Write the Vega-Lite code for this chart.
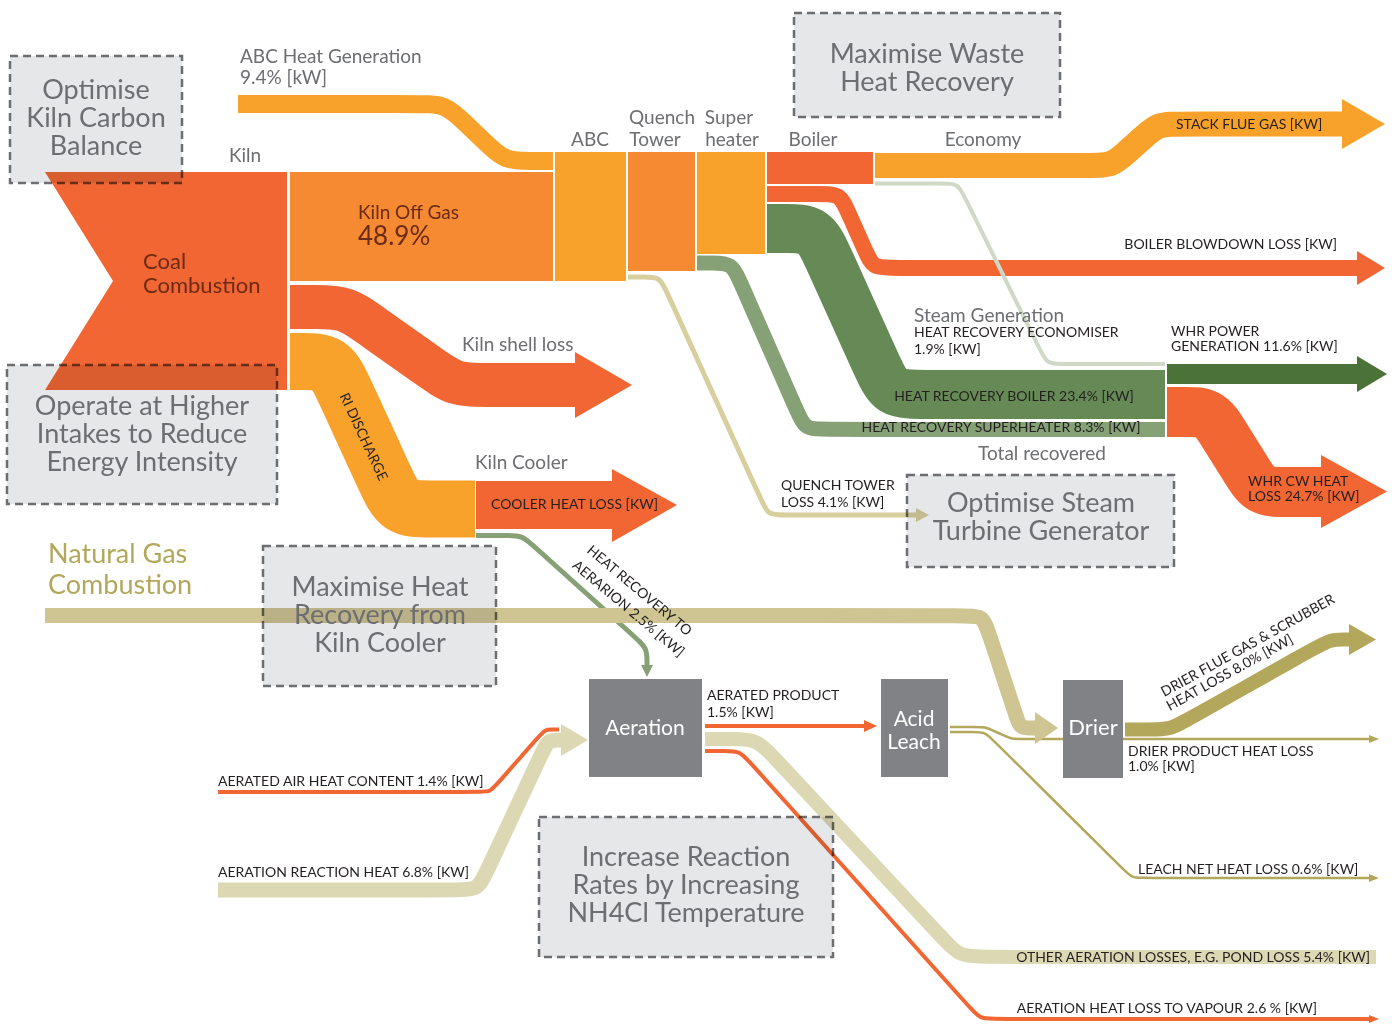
{
  "$schema": "https://vega.github.io/schema/vega-lite/v6.json",
  "width": 1395,
  "height": 1024,
  "padding": 0,
  "autosize": {"type": "none"},
  "background": "#ffffff",
  "config": {"view": {"stroke": null}, "font": "Lato"},
  "datasets": {
    "flows": [
      {"flow":"abc_heat","grp":"abc","w":18,"seq":1,"x":238,"y":104},
      {"flow":"abc_heat","grp":"abc","w":18,"seq":2,"x":420,"y":104},
      {"flow":"abc_heat","grp":"abc","w":18,"seq":3,"x":445,"y":104},
      {"flow":"abc_heat","grp":"abc","w":18,"seq":4,"x":463,"y":121},
      {"flow":"abc_heat","grp":"abc","w":18,"seq":5,"x":487,"y":144},
      {"flow":"abc_heat","grp":"abc","w":18,"seq":6,"x":505,"y":161},
      {"flow":"abc_heat","grp":"abc","w":18,"seq":7,"x":530,"y":161},
      {"flow":"abc_heat","grp":"abc","w":18,"seq":8,"x":553,"y":161},

      {"flow":"shell","grp":"red","w":44,"seq":1,"x":290,"y":307},
      {"flow":"shell","grp":"red","w":44,"seq":2,"x":315,"y":307},
      {"flow":"shell","grp":"red","w":44,"seq":3,"x":345,"y":307},
      {"flow":"shell","grp":"red","w":44,"seq":4,"x":369.5,"y":324.4},
      {"flow":"shell","grp":"red","w":44,"seq":5,"x":430.5,"y":367.6},
      {"flow":"shell","grp":"red","w":44,"seq":6,"x":455,"y":385},
      {"flow":"shell","grp":"red","w":44,"seq":7,"x":485,"y":385},
      {"flow":"shell","grp":"red","w":44,"seq":8,"x":577,"y":385},

      {"flow":"ri","grp":"abc","w":57,"seq":1,"x":290,"y":361.5},
      {"flow":"ri","grp":"abc","w":57,"seq":2,"x":301,"y":361.5},
      {"flow":"ri","grp":"abc","w":57,"seq":3,"x":331,"y":361.5},
      {"flow":"ri","grp":"abc","w":57,"seq":4,"x":343.6,"y":388.7},
      {"flow":"ri","grp":"abc","w":57,"seq":5,"x":386.4,"y":481.8},
      {"flow":"ri","grp":"abc","w":57,"seq":6,"x":399,"y":509},
      {"flow":"ri","grp":"abc","w":57,"seq":7,"x":429,"y":509},
      {"flow":"ri","grp":"abc","w":57,"seq":8,"x":475,"y":509},

      {"flow":"cooler","grp":"red","w":48,"seq":1,"x":476,"y":505},
      {"flow":"cooler","grp":"red","w":48,"seq":2,"x":614,"y":505},

      {"flow":"hrta","grp":"sh","w":5,"seq":1,"x":476,"y":535.5},
      {"flow":"hrta","grp":"sh","w":5,"seq":2,"x":507,"y":535.5},
      {"flow":"hrta","grp":"sh","w":5,"seq":3,"x":522,"y":535.5},
      {"flow":"hrta","grp":"sh","w":5,"seq":4,"x":533.1,"y":545.5},
      {"flow":"hrta","grp":"sh","w":5,"seq":5,"x":635.9,"y":638},
      {"flow":"hrta","grp":"sh","w":5,"seq":6,"x":647,"y":648},
      {"flow":"hrta","grp":"sh","w":5,"seq":7,"x":647,"y":663},
      {"flow":"hrta","grp":"sh","w":5,"seq":8,"x":647,"y":667},

      {"flow":"quench","grp":"quench","w":5,"seq":1,"x":628,"y":277},
      {"flow":"quench","grp":"quench","w":5,"seq":2,"x":645,"y":277},
      {"flow":"quench","grp":"quench","w":5,"seq":3,"x":660,"y":277},
      {"flow":"quench","grp":"quench","w":5,"seq":4,"x":666.2,"y":290.7},
      {"flow":"quench","grp":"quench","w":5,"seq":5,"x":761.8,"y":501.3},
      {"flow":"quench","grp":"quench","w":5,"seq":6,"x":768,"y":515},
      {"flow":"quench","grp":"quench","w":5,"seq":7,"x":783,"y":515},
      {"flow":"quench","grp":"quench","w":5,"seq":8,"x":918,"y":515},

      {"flow":"superheat","grp":"sh","w":15,"seq":1,"x":697,"y":263},
      {"flow":"superheat","grp":"sh","w":15,"seq":2,"x":712,"y":263},
      {"flow":"superheat","grp":"sh","w":15,"seq":3,"x":732,"y":263},
      {"flow":"superheat","grp":"sh","w":15,"seq":4,"x":740,"y":281.3},
      {"flow":"superheat","grp":"sh","w":15,"seq":5,"x":797,"y":411.2},
      {"flow":"superheat","grp":"sh","w":15,"seq":6,"x":805,"y":429.5},
      {"flow":"superheat","grp":"sh","w":15,"seq":7,"x":825,"y":429.5},
      {"flow":"superheat","grp":"sh","w":15,"seq":8,"x":1165,"y":429.5},

      {"flow":"blowdown","grp":"red","w":16,"seq":1,"x":767,"y":194},
      {"flow":"blowdown","grp":"red","w":16,"seq":2,"x":822,"y":194},
      {"flow":"blowdown","grp":"red","w":16,"seq":3,"x":840,"y":194},
      {"flow":"blowdown","grp":"red","w":16,"seq":4,"x":847.3,"y":210.4},
      {"flow":"blowdown","grp":"red","w":16,"seq":5,"x":865.7,"y":251.6},
      {"flow":"blowdown","grp":"red","w":16,"seq":6,"x":873,"y":268},
      {"flow":"blowdown","grp":"red","w":16,"seq":7,"x":891,"y":268},
      {"flow":"blowdown","grp":"red","w":16,"seq":8,"x":1358,"y":268},

      {"flow":"steam","grp":"steam","w":49,"seq":1,"x":767,"y":228.5},
      {"flow":"steam","grp":"steam","w":49,"seq":2,"x":785,"y":228.5},
      {"flow":"steam","grp":"steam","w":49,"seq":3,"x":815,"y":228.5},
      {"flow":"steam","grp":"steam","w":49,"seq":4,"x":827.4,"y":255.8},
      {"flow":"steam","grp":"steam","w":49,"seq":5,"x":877.6,"y":367.2},
      {"flow":"steam","grp":"steam","w":49,"seq":6,"x":890,"y":394.5},
      {"flow":"steam","grp":"steam","w":49,"seq":7,"x":920,"y":394.5},
      {"flow":"steam","grp":"steam","w":49,"seq":8,"x":1165,"y":394.5},

      {"flow":"stack","grp":"abc","w":25,"seq":1,"x":875,"y":165.5},
      {"flow":"stack","grp":"abc","w":25,"seq":2,"x":1092,"y":165.5},
      {"flow":"stack","grp":"abc","w":25,"seq":3,"x":1112,"y":165.5},
      {"flow":"stack","grp":"abc","w":25,"seq":4,"x":1126.8,"y":152.1},
      {"flow":"stack","grp":"abc","w":25,"seq":5,"x":1143.2,"y":137.4},
      {"flow":"stack","grp":"abc","w":25,"seq":6,"x":1158,"y":124},
      {"flow":"stack","grp":"abc","w":25,"seq":7,"x":1178,"y":124},
      {"flow":"stack","grp":"abc","w":25,"seq":8,"x":1343,"y":124},

      {"flow":"power","grp":"power","w":20,"seq":1,"x":1167,"y":374},
      {"flow":"power","grp":"power","w":20,"seq":2,"x":1358,"y":374},

      {"flow":"cw","grp":"red","w":50,"seq":1,"x":1167,"y":412},
      {"flow":"cw","grp":"red","w":50,"seq":2,"x":1185,"y":412},
      {"flow":"cw","grp":"red","w":50,"seq":3,"x":1210,"y":412},
      {"flow":"cw","grp":"red","w":50,"seq":4,"x":1223.3,"y":433.2},
      {"flow":"cw","grp":"red","w":50,"seq":5,"x":1246.7,"y":470.8},
      {"flow":"cw","grp":"red","w":50,"seq":6,"x":1260,"y":492},
      {"flow":"cw","grp":"red","w":50,"seq":7,"x":1285,"y":492},
      {"flow":"cw","grp":"red","w":50,"seq":8,"x":1323,"y":492},

      {"flow":"product","grp":"red","w":4,"seq":1,"x":705,"y":726},
      {"flow":"product","grp":"red","w":4,"seq":2,"x":866,"y":726},

      {"flow":"other","grp":"lk","w":14,"seq":1,"x":705,"y":739},
      {"flow":"other","grp":"lk","w":14,"seq":2,"x":732,"y":739},
      {"flow":"other","grp":"lk","w":14,"seq":3,"x":757,"y":739},
      {"flow":"other","grp":"lk","w":14,"seq":4,"x":774,"y":757.3},
      {"flow":"other","grp":"lk","w":14,"seq":5,"x":943,"y":938.7},
      {"flow":"other","grp":"lk","w":14,"seq":6,"x":960,"y":957},
      {"flow":"other","grp":"lk","w":14,"seq":7,"x":985,"y":957},
      {"flow":"other","grp":"lk","w":14,"seq":8,"x":1376,"y":957},

      {"flow":"vapour","grp":"red","w":4,"seq":1,"x":705,"y":751},
      {"flow":"vapour","grp":"red","w":4,"seq":2,"x":725,"y":751},
      {"flow":"vapour","grp":"red","w":4,"seq":3,"x":740,"y":751},
      {"flow":"vapour","grp":"red","w":4,"seq":4,"x":750,"y":762.2},
      {"flow":"vapour","grp":"red","w":4,"seq":5,"x":970,"y":1007.8},
      {"flow":"vapour","grp":"red","w":4,"seq":6,"x":980,"y":1019},
      {"flow":"vapour","grp":"red","w":4,"seq":7,"x":995,"y":1019},
      {"flow":"vapour","grp":"red","w":4,"seq":8,"x":1371,"y":1019},

      {"flow":"air","grp":"red","w":4,"seq":1,"x":218,"y":792},
      {"flow":"air","grp":"red","w":4,"seq":2,"x":480,"y":792},
      {"flow":"air","grp":"red","w":4,"seq":3,"x":490,"y":792},
      {"flow":"air","grp":"red","w":4,"seq":4,"x":496.6,"y":784.5},
      {"flow":"air","grp":"red","w":4,"seq":5,"x":538.4,"y":737},
      {"flow":"air","grp":"red","w":4,"seq":6,"x":545,"y":729.5},
      {"flow":"air","grp":"red","w":4,"seq":7,"x":552,"y":729.5},
      {"flow":"air","grp":"red","w":4,"seq":8,"x":559,"y":729.5},

      {"flow":"reaction","grp":"lk","w":15,"seq":1,"x":218,"y":890},
      {"flow":"reaction","grp":"lk","w":15,"seq":2,"x":458,"y":890},
      {"flow":"reaction","grp":"lk","w":15,"seq":3,"x":478,"y":890},
      {"flow":"reaction","grp":"lk","w":15,"seq":4,"x":486.5,"y":871.9},
      {"flow":"reaction","grp":"lk","w":15,"seq":5,"x":542.9,"y":750.9},
      {"flow":"reaction","grp":"lk","w":15,"seq":6,"x":548,"y":740},
      {"flow":"reaction","grp":"lk","w":15,"seq":7,"x":560,"y":740},
      {"flow":"reaction","grp":"lk","w":15,"seq":8,"x":563,"y":740},

      {"flow":"leach_drier","grp":"olive","w":2.5,"seq":1,"x":950,"y":727},
      {"flow":"leach_drier","grp":"olive","w":2.5,"seq":2,"x":977,"y":727},
      {"flow":"leach_drier","grp":"olive","w":2.5,"seq":3,"x":985,"y":727},
      {"flow":"leach_drier","grp":"olive","w":2.5,"seq":4,"x":992.3,"y":730.2},
      {"flow":"leach_drier","grp":"olive","w":2.5,"seq":5,"x":1004.7,"y":735.8},
      {"flow":"leach_drier","grp":"olive","w":2.5,"seq":6,"x":1012,"y":739},
      {"flow":"leach_drier","grp":"olive","w":2.5,"seq":7,"x":1020,"y":739},
      {"flow":"leach_drier","grp":"olive","w":2.5,"seq":8,"x":1063,"y":739},

      {"flow":"drier_product","grp":"olive","w":2.5,"seq":1,"x":1123,"y":739},
      {"flow":"drier_product","grp":"olive","w":2.5,"seq":2,"x":1370,"y":739},

      {"flow":"leach_net","grp":"olive","w":2.5,"seq":1,"x":950,"y":732},
      {"flow":"leach_net","grp":"olive","w":2.5,"seq":2,"x":973,"y":732},
      {"flow":"leach_net","grp":"olive","w":2.5,"seq":3,"x":985,"y":732},
      {"flow":"leach_net","grp":"olive","w":2.5,"seq":4,"x":993.5,"y":740.5},
      {"flow":"leach_net","grp":"olive","w":2.5,"seq":5,"x":1123.5,"y":869.5},
      {"flow":"leach_net","grp":"olive","w":2.5,"seq":6,"x":1132,"y":878},
      {"flow":"leach_net","grp":"olive","w":2.5,"seq":7,"x":1144,"y":878},
      {"flow":"leach_net","grp":"olive","w":2.5,"seq":8,"x":1370,"y":878},

      {"flow":"flue","grp":"olive","w":14,"seq":1,"x":1125,"y":729.5},
      {"flow":"flue","grp":"olive","w":14,"seq":2,"x":1150,"y":729.5},
      {"flow":"flue","grp":"olive","w":14,"seq":3,"x":1170,"y":729.5},
      {"flow":"flue","grp":"olive","w":14,"seq":4,"x":1187.5,"y":719.8},
      {"flow":"flue","grp":"olive","w":14,"seq":5,"x":1312.5,"y":649.2},
      {"flow":"flue","grp":"olive","w":14,"seq":6,"x":1330,"y":639.5},
      {"flow":"flue","grp":"olive","w":14,"seq":7,"x":1345,"y":639.5},
      {"flow":"flue","grp":"olive","w":14,"seq":8,"x":1351,"y":639.5}
    ],
    "crossing_flows": [
      {"flow":"econ","grp":"econ","w":4,"seq":1,"x":875,"y":183.5},
      {"flow":"econ","grp":"econ","w":4,"seq":2,"x":943,"y":183.5},
      {"flow":"econ","grp":"econ","w":4,"seq":3,"x":958,"y":183.5},
      {"flow":"econ","grp":"econ","w":4,"seq":4,"x":964.6,"y":197},
      {"flow":"econ","grp":"econ","w":4,"seq":5,"x":1040.4,"y":350.5},
      {"flow":"econ","grp":"econ","w":4,"seq":6,"x":1047,"y":364},
      {"flow":"econ","grp":"econ","w":4,"seq":7,"x":1062,"y":364},
      {"flow":"econ","grp":"econ","w":4,"seq":8,"x":1165,"y":364},

      {"flow":"gas","grp":"gas","w":15,"seq":1,"x":45,"y":615.5},
      {"flow":"gas","grp":"gas","w":15,"seq":2,"x":965,"y":615.5},
      {"flow":"gas","grp":"gas","w":15,"seq":3,"x":983,"y":615.5},
      {"flow":"gas","grp":"gas","w":15,"seq":4,"x":988.6,"y":632.6},
      {"flow":"gas","grp":"gas","w":15,"seq":5,"x":1016.3,"y":716.6},
      {"flow":"gas","grp":"gas","w":15,"seq":6,"x":1020,"y":728},
      {"flow":"gas","grp":"gas","w":15,"seq":7,"x":1032,"y":728},
      {"flow":"gas","grp":"gas","w":15,"seq":8,"x":1037,"y":728}
    ],
    "nodes": [
      {"node":"Kiln Off Gas","grp":"offgas","x":290,"x2":553,"y":172,"y2":281},
      {"node":"ABC","grp":"abc","x":555,"x2":626,"y":152,"y2":281},
      {"node":"Quench Tower","grp":"offgas","x":628,"x2":695,"y":152,"y2":271},
      {"node":"Super heater","grp":"abc","x":697,"x2":765,"y":152,"y2":254},
      {"node":"Boiler","grp":"red","x":767,"x2":873,"y":152,"y2":184},
      {"node":"Aeration","grp":"node","x":589,"x2":702,"y":679,"y2":777},
      {"node":"Acid Leach","grp":"node","x":881,"x2":948,"y":679,"y2":777},
      {"node":"Drier","grp":"node","x":1063,"x2":1123,"y":680,"y2":778}
    ],
    "shapes": [
      {"shape":"coal","grp":"red","seq":1,"x":45,"y":172},
      {"shape":"coal","grp":"red","seq":2,"x":287,"y":172},
      {"shape":"coal","grp":"red","seq":3,"x":287,"y":390},
      {"shape":"coal","grp":"red","seq":4,"x":45,"y":390},
      {"shape":"coal","grp":"red","seq":5,"x":113,"y":281},
      {"shape":"a_stack","grp":"abc","seq":1,"x":1342,"y":99},
      {"shape":"a_stack","grp":"abc","seq":2,"x":1385,"y":124},
      {"shape":"a_stack","grp":"abc","seq":3,"x":1342,"y":149},
      {"shape":"a_blow","grp":"red","seq":1,"x":1357,"y":251},
      {"shape":"a_blow","grp":"red","seq":2,"x":1385,"y":268},
      {"shape":"a_blow","grp":"red","seq":3,"x":1357,"y":285},
      {"shape":"a_power","grp":"power","seq":1,"x":1357,"y":356},
      {"shape":"a_power","grp":"power","seq":2,"x":1387,"y":374},
      {"shape":"a_power","grp":"power","seq":3,"x":1357,"y":392},
      {"shape":"a_cw","grp":"red","seq":1,"x":1321,"y":455},
      {"shape":"a_cw","grp":"red","seq":2,"x":1387,"y":491.5},
      {"shape":"a_cw","grp":"red","seq":3,"x":1321,"y":528},
      {"shape":"a_shell","grp":"red","seq":1,"x":575,"y":352},
      {"shape":"a_shell","grp":"red","seq":2,"x":632,"y":385},
      {"shape":"a_shell","grp":"red","seq":3,"x":575,"y":418},
      {"shape":"a_cooler","grp":"red","seq":1,"x":612,"y":469},
      {"shape":"a_cooler","grp":"red","seq":2,"x":677,"y":505},
      {"shape":"a_cooler","grp":"red","seq":3,"x":612,"y":542},
      {"shape":"a_quench","grp":"quench","seq":1,"x":916,"y":508},
      {"shape":"a_quench","grp":"quench","seq":2,"x":929,"y":515},
      {"shape":"a_quench","grp":"quench","seq":3,"x":916,"y":522},
      {"shape":"a_hrta","grp":"sh","seq":1,"x":641,"y":665},
      {"shape":"a_hrta","grp":"sh","seq":2,"x":653,"y":665},
      {"shape":"a_hrta","grp":"sh","seq":3,"x":647,"y":677},
      {"shape":"a_gas","grp":"gas","seq":1,"x":1035,"y":712},
      {"shape":"a_gas","grp":"gas","seq":2,"x":1058,"y":728},
      {"shape":"a_gas","grp":"gas","seq":3,"x":1035,"y":744},
      {"shape":"a_reaction","grp":"lk","seq":1,"x":561,"y":724},
      {"shape":"a_reaction","grp":"lk","seq":2,"x":588,"y":740},
      {"shape":"a_reaction","grp":"lk","seq":3,"x":561,"y":756},
      {"shape":"a_product","grp":"red","seq":1,"x":864,"y":720},
      {"shape":"a_product","grp":"red","seq":2,"x":877,"y":726},
      {"shape":"a_product","grp":"red","seq":3,"x":864,"y":732},
      {"shape":"a_flue","grp":"olive","seq":1,"x":1349,"y":624},
      {"shape":"a_flue","grp":"olive","seq":2,"x":1376,"y":639.5},
      {"shape":"a_flue","grp":"olive","seq":3,"x":1349,"y":655},
      {"shape":"a_drierprod","grp":"olive","seq":1,"x":1369,"y":735},
      {"shape":"a_drierprod","grp":"olive","seq":2,"x":1379,"y":739},
      {"shape":"a_drierprod","grp":"olive","seq":3,"x":1369,"y":743},
      {"shape":"a_leach","grp":"olive","seq":1,"x":1369,"y":874},
      {"shape":"a_leach","grp":"olive","seq":2,"x":1379,"y":878},
      {"shape":"a_leach","grp":"olive","seq":3,"x":1369,"y":882},
      {"shape":"a_vapour","grp":"red","seq":1,"x":1369,"y":1015},
      {"shape":"a_vapour","grp":"red","seq":2,"x":1379,"y":1019},
      {"shape":"a_vapour","grp":"red","seq":3,"x":1369,"y":1023}
    ],
    "callouts": [
      {"box":"kiln carbon","x":10,"x2":182,"y":56,"y2":183},
      {"box":"intakes","x":7,"x2":277,"y":365,"y2":504},
      {"box":"waste heat","x":794,"x2":1060,"y":13,"y2":117},
      {"box":"steam turbine","x":907,"x2":1174,"y":475,"y2":567},
      {"box":"kiln cooler","x":263,"x2":496,"y":546,"y2":686},
      {"box":"reaction","x":539,"x2":833,"y":817,"y2":957}
    ],
    "callout_text": [
      {"label":"Optimise","x":96,"y":91},
      {"label":"Kiln Carbon","x":96,"y":119},
      {"label":"Balance","x":96,"y":147},
      {"label":"Operate at Higher","x":142,"y":407},
      {"label":"Intakes to Reduce","x":142,"y":435},
      {"label":"Energy Intensity","x":142,"y":463},
      {"label":"Maximise Waste","x":927,"y":55},
      {"label":"Heat Recovery","x":927,"y":83},
      {"label":"Optimise Steam","x":1041,"y":504},
      {"label":"Turbine Generator","x":1041,"y":532},
      {"label":"Maximise Heat","x":380,"y":588},
      {"label":"Recovery from","x":380,"y":616},
      {"label":"Kiln Cooler","x":380,"y":644},
      {"label":"Increase Reaction","x":686,"y":858},
      {"label":"Rates by Increasing","x":686,"y":886},
      {"label":"NH4Cl Temperature","x":686,"y":914}
    ],
    "gray_left": [
      {"label":"ABC Heat Generation","x":240,"y":57},
      {"label":"9.4% [kW]","x":240,"y":78},
      {"label":"Kiln shell loss","x":462,"y":345},
      {"label":"Kiln Cooler","x":475,"y":463},
      {"label":"Steam Generation","x":914,"y":316}
    ],
    "gray_center": [
      {"label":"Kiln","x":245,"y":156},
      {"label":"ABC","x":590,"y":140},
      {"label":"Quench","x":662,"y":118},
      {"label":"Tower","x":655,"y":140},
      {"label":"Super","x":729,"y":118},
      {"label":"heater","x":732,"y":140},
      {"label":"Boiler","x":813,"y":140},
      {"label":"Economy","x":983,"y":140},
      {"label":"Total recovered","x":1042,"y":454}
    ],
    "dark_left": [
      {"label":"STACK FLUE GAS [KW]","x":1176,"y":125},
      {"label":"HEAT RECOVERY ECONOMISER","x":914,"y":333},
      {"label":"1.9% [KW]","x":914,"y":350},
      {"label":"WHR POWER","x":1171,"y":332},
      {"label":"GENERATION 11.6% [KW]","x":1171,"y":347},
      {"label":"WHR CW HEAT","x":1248,"y":482},
      {"label":"LOSS 24.7% [KW]","x":1248,"y":497},
      {"label":"QUENCH TOWER","x":781,"y":486},
      {"label":"LOSS 4.1% [KW]","x":781,"y":503},
      {"label":"COOLER HEAT LOSS [KW]","x":491,"y":505},
      {"label":"AERATED PRODUCT","x":707,"y":696},
      {"label":"1.5% [KW]","x":707,"y":713},
      {"label":"AERATED AIR HEAT CONTENT 1.4% [KW]","x":218,"y":782},
      {"label":"AERATION REACTION HEAT 6.8% [KW]","x":218,"y":873},
      {"label":"DRIER PRODUCT HEAT LOSS","x":1128,"y":752},
      {"label":"1.0% [KW]","x":1128,"y":767},
      {"label":"LEACH NET HEAT LOSS 0.6% [KW]","x":1138,"y":870}
    ],
    "dark_right": [
      {"label":"BOILER BLOWDOWN LOSS [KW]","x":1337,"y":245},
      {"label":"OTHER AERATION LOSSES, E.G. POND LOSS 5.4% [KW]","x":1370,"y":958},
      {"label":"AERATION HEAT LOSS TO VAPOUR 2.6 % [KW]","x":1317,"y":1009}
    ],
    "dark_center": [
      {"label":"HEAT RECOVERY BOILER 23.4% [KW]","x":1014,"y":397,"angle":0},
      {"label":"HEAT RECOVERY SUPERHEATER 8.3% [KW]","x":1001,"y":428,"angle":0},
      {"label":"RI DISCHARGE","x":363,"y":437,"angle":65},
      {"label":"HEAT RECOVERY TO","x":639,"y":591,"angle":40},
      {"label":"AERARION 2.5% [KW]","x":628,"y":609,"angle":40},
      {"label":"DRIER FLUE GAS & SCRUBBER","x":1248,"y":646,"angle":331},
      {"label":"HEAT LOSS 8.0% [KW]","x":1230,"y":673,"angle":331}
    ],
    "brown_coal": [
      {"label":"Coal","x":143,"y":262},
      {"label":"Combustion","x":143,"y":286}
    ],
    "brown_gas": [
      {"label":"Kiln Off Gas","x":358,"y":213}
    ],
    "brown_pct": [
      {"label":"48.9%","x":358,"y":237}
    ],
    "white_text": [
      {"label":"Aeration","x":645,"y":729},
      {"label":"Acid","x":914,"y":720},
      {"label":"Leach","x":914,"y":743}
    ],
    "white_drier": [
      {"label":"Drier","x":1093,"y":728}
    ],
    "gas_label": [
      {"label":"Natural Gas","x":48,"y":555},
      {"label":"Combustion","x":48,"y":586}
    ]
  },
  "encoding": {
    "x": {"field": "x", "type": "quantitative", "scale": {"domain": [0, 1395], "nice": false, "zero": false}, "axis": null},
    "y": {"field": "y", "type": "quantitative", "scale": {"domain": [0, 1024], "nice": false, "zero": false, "reverse": true}, "axis": null}
  },
  "layer": [
    {
      "data": {"name": "flows"},
      "mark": {"type": "line", "interpolate": "basis", "strokeCap": "butt"},
      "encoding": {
        "detail": {"field": "flow", "type": "nominal"},
        "order": {"field": "seq", "type": "quantitative"},
        "strokeWidth": {"field": "w", "type": "quantitative", "scale": null, "legend": null},
        "color": {"field": "grp", "type": "nominal", "legend": null,
          "scale": {"domain": ["red","offgas","abc","steam","sh","power","econ","quench","gas","lk","olive","node"],
                    "range": ["#f26633","#f58a33","#f9a22b","#668a55","#87a176","#4b7338","#d0d8c6","#d8cf9e","#cec593","#ddd8b4","#b3a75b","#808285"]}}
      }
    },
    {
      "data": {"name": "crossing_flows"},
      "mark": {"type": "line", "interpolate": "basis", "strokeCap": "butt"},
      "encoding": {
        "detail": {"field": "flow", "type": "nominal"},
        "order": {"field": "seq", "type": "quantitative"},
        "strokeWidth": {"field": "w", "type": "quantitative", "scale": null, "legend": null},
        "color": {"field": "grp", "type": "nominal", "legend": null,
          "scale": {"domain": ["red","offgas","abc","steam","sh","power","econ","quench","gas","lk","olive","node"],
                    "range": ["#f26633","#f58a33","#f9a22b","#668a55","#87a176","#4b7338","#d0d8c6","#d8cf9e","#cec593","#ddd8b4","#b3a75b","#808285"]}}
      }
    },
    {
      "data": {"name": "nodes"},
      "mark": {"type": "rect"},
      "encoding": {
        "x2": {"field": "x2"},
        "y2": {"field": "y2"},
        "color": {"field": "grp", "type": "nominal", "legend": null,
          "scale": {"domain": ["red","offgas","abc","steam","sh","power","econ","quench","gas","lk","olive","node"],
                    "range": ["#f26633","#f58a33","#f9a22b","#668a55","#87a176","#4b7338","#d0d8c6","#d8cf9e","#cec593","#ddd8b4","#b3a75b","#808285"]}}
      }
    },
    {
      "data": {"name": "shapes"},
      "mark": {"type": "line", "filled": true, "interpolate": "linear-closed"},
      "encoding": {
        "detail": {"field": "shape", "type": "nominal"},
        "order": {"field": "seq", "type": "quantitative"},
        "color": {"field": "grp", "type": "nominal", "legend": null,
          "scale": {"domain": ["red","offgas","abc","steam","sh","power","econ","quench","gas","lk","olive","node"],
                    "range": ["#f26633","#f58a33","#f9a22b","#668a55","#87a176","#4b7338","#d0d8c6","#d8cf9e","#cec593","#ddd8b4","#b3a75b","#808285"]}}
      }
    },
    {
      "data": {"name": "callouts"},
      "mark": {"type": "rect", "fill": "#e6e7e8", "stroke": "#6d6e71", "strokeWidth": 2.5, "strokeDash": [8, 5], "blend": "multiply"},
      "encoding": {"x2": {"field": "x2"}, "y2": {"field": "y2"}}
    },
    {
      "data": {"name": "callout_text"},
      "mark": {"type": "text", "align": "center", "baseline": "middle", "font": "Lato", "fontSize": 27, "color": "#6d6e71"},
      "encoding": {"text": {"field": "label"}}
    },
    {
      "data": {"name": "gray_left"},
      "mark": {"type": "text", "align": "left", "baseline": "middle", "font": "Lato", "fontSize": 19, "color": "#6d6e71"},
      "encoding": {"text": {"field": "label"}}
    },
    {
      "data": {"name": "gray_center"},
      "mark": {"type": "text", "align": "center", "baseline": "middle", "font": "Lato", "fontSize": 19, "color": "#6d6e71"},
      "encoding": {"text": {"field": "label"}}
    },
    {
      "data": {"name": "dark_left"},
      "mark": {"type": "text", "align": "left", "baseline": "middle", "font": "Lato", "fontSize": 14, "color": "#231f20"},
      "encoding": {"text": {"field": "label"}}
    },
    {
      "data": {"name": "dark_right"},
      "mark": {"type": "text", "align": "right", "baseline": "middle", "font": "Lato", "fontSize": 14, "color": "#231f20"},
      "encoding": {"text": {"field": "label"}}
    },
    {
      "data": {"name": "dark_center"},
      "mark": {"type": "text", "align": "center", "baseline": "middle", "font": "Lato", "fontSize": 14, "color": "#231f20"},
      "encoding": {"text": {"field": "label"}, "angle": {"field": "angle", "type": "quantitative", "scale": null}}
    },
    {
      "data": {"name": "brown_coal"},
      "mark": {"type": "text", "align": "left", "baseline": "middle", "font": "Lato", "fontSize": 22, "color": "#6b2b15"},
      "encoding": {"text": {"field": "label"}}
    },
    {
      "data": {"name": "brown_gas"},
      "mark": {"type": "text", "align": "left", "baseline": "middle", "font": "Lato", "fontSize": 19, "color": "#6b2b15"},
      "encoding": {"text": {"field": "label"}}
    },
    {
      "data": {"name": "brown_pct"},
      "mark": {"type": "text", "align": "left", "baseline": "middle", "font": "Lato", "fontSize": 26, "color": "#6b2b15"},
      "encoding": {"text": {"field": "label"}}
    },
    {
      "data": {"name": "white_text"},
      "mark": {"type": "text", "align": "center", "baseline": "middle", "font": "Lato", "fontSize": 21, "color": "#ffffff"},
      "encoding": {"text": {"field": "label"}}
    },
    {
      "data": {"name": "white_drier"},
      "mark": {"type": "text", "align": "center", "baseline": "middle", "font": "Lato", "fontSize": 22, "color": "#ffffff"},
      "encoding": {"text": {"field": "label"}}
    },
    {
      "data": {"name": "gas_label"},
      "mark": {"type": "text", "align": "left", "baseline": "middle", "font": "Lato", "fontSize": 27, "color": "#b3a75b"},
      "encoding": {"text": {"field": "label"}}
    }
  ]
}
